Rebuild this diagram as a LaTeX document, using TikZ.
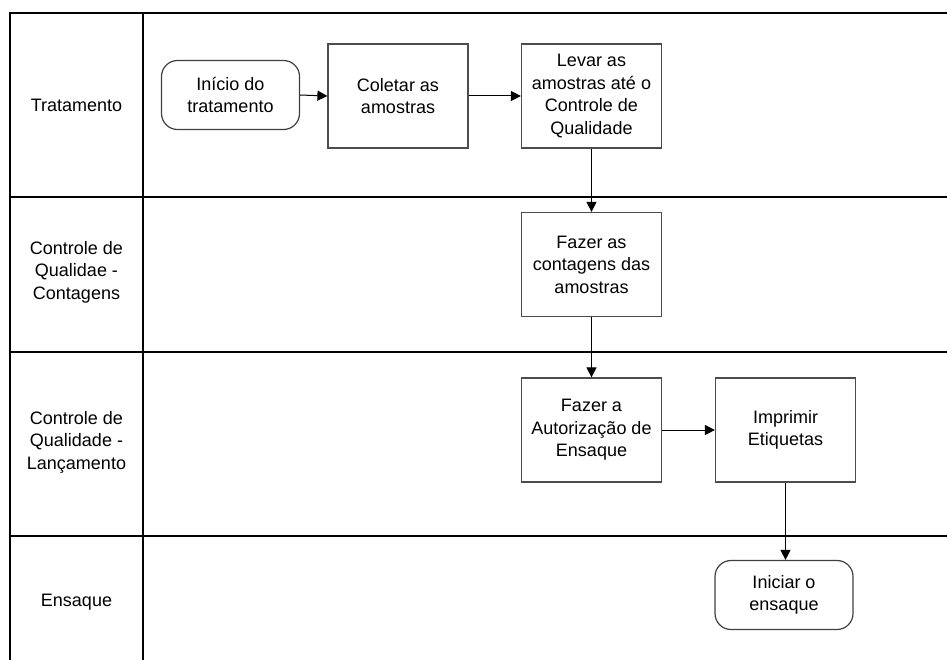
\documentclass[tikz,border=0pt]{standalone}
\usepackage{fontspec}
\setmainfont{Liberation Sans}
\usetikzlibrary{arrows.meta}
\begin{document}
\begin{tikzpicture}[x=1pt,y=-1pt,
  lane/.style={line width=2.6pt,black},
  txt/.style={font=\fontsize{18}{22.5}\selectfont,align=center,inner sep=0pt},
  task/.style={txt,draw=black!70,line width=1.2pt,minimum width=140pt,minimum height=104pt},
  terminal/.style={txt,draw=black!75,line width=1.2pt,rounded corners=16pt,minimum width=138pt,minimum height=69pt},
  flow/.style={line width=1pt,-{Triangle[length=10pt,width=10pt]}},
  lanelabel/.style={txt}]
\useasboundingbox (0,0) rectangle (947,660);
% swimlane frame
\draw[lane] (947,13) -- (10,13) -- (10,660);
\draw[lane] (143,13) -- (143,660);
\draw[lane] (10,197) -- (947,197);
\draw[lane] (10,352) -- (947,352);
\draw[lane] (10,536) -- (947,536);
% lane titles
\node[lanelabel] (l1) at (76.5,105) {Tratamento};
\node[lanelabel] (l2) at (76.5,272) {Controle de\\Qualidae -\\Contagens};
\node[lanelabel] (l3) at (76.5,442) {Controle de\\Qualidade -\\Lançamento};
\node[lanelabel] (l4) at (76.5,602) {Ensaque};
% process steps
\node[terminal] (start) at (230.5,95) {Início do\\tratamento};
\node[task] (collect) at (398,96) {Coletar as\\amostras};
\node[task] (take) at (591.5,96) {Levar as\\amostras até o\\Controle de\\Qualidade};
\node[task] (count) at (591.5,264.5) {Fazer as\\contagens das\\amostras};
\node[task] (auth) at (591.5,430) {Fazer a\\Autorização de\\Ensaque};
\node[task] (print) at (785.5,430) {Imprimir\\Etiquetas};
\node[terminal] (finish) at (784,595) {Iniciar o\\ensaque};
% connectors
\draw[flow] (start.east) -- (collect.west);
\draw[flow] (collect.east) -- (take.west);
\draw[flow] (take.south) -- (count.north);
\draw[flow] (count.south) -- (auth.north);
\draw[flow] (auth.east) -- (print.west);
\draw[flow] (print.south) -- (print.south |- finish.north);
\end{tikzpicture}
\end{document}
